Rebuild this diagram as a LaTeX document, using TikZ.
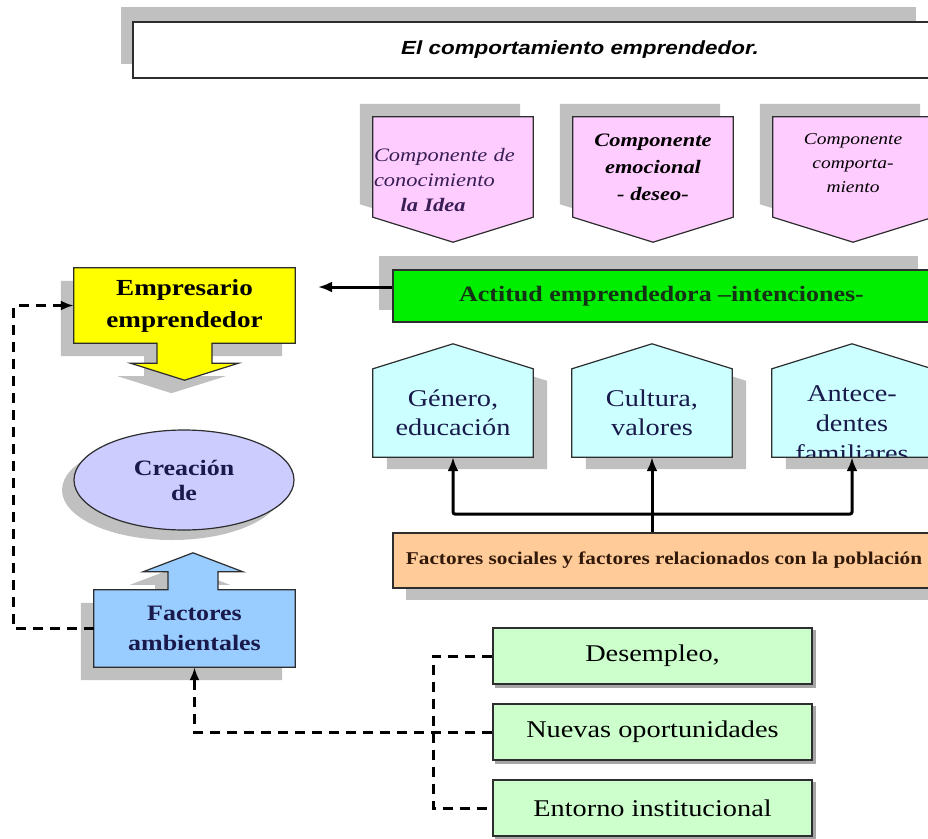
\documentclass[tikz,border=0pt]{standalone}
\usepackage{fontspec}
\setmainfont{Liberation Serif}[FakeStretch=1.18]
\newfontfamily\titulofont{Liberation Sans}[FakeStretch=1.18]
\usetikzlibrary{arrows.meta,backgrounds,shapes.geometric}

\definecolor{sombra}{RGB}{192,192,192}
\definecolor{rosa}{RGB}{255,204,255}
\definecolor{verde}{RGB}{0,238,0}
\definecolor{amarillo}{RGB}{255,255,0}
\definecolor{celeste}{RGB}{204,255,255}
\definecolor{lila}{RGB}{204,204,255}
\definecolor{azul}{RGB}{153,204,255}
\definecolor{naranja}{RGB}{255,204,153}
\definecolor{verdeclaro}{RGB}{204,255,204}
\definecolor{tinta}{RGB}{25,25,75}
\definecolor{tintamorada}{RGB}{55,30,85}
\definecolor{tintaverde}{RGB}{20,50,20}
\definecolor{tintamarron}{RGB}{50,25,10}
\definecolor{borde}{RGB}{45,45,45}

% contornos de las formas, a partir de las anclas del nodo
\newcommand{\pentabajo}[1]{(#1.north west) -- (#1.north east) -- (#1.south east) -- ([yshift=-25pt]#1.south) -- (#1.south west) -- cycle}
\newcommand{\pentarriba}[1]{(#1.south west) -- (#1.north west) -- ([yshift=25pt]#1.north) -- (#1.north east) -- (#1.south east) -- cycle}
\newcommand{\flechabajo}[1]{(#1.north west) -- (#1.north east) -- (#1.south east) -- ([xshift=27.5pt]#1.south) -- ([xshift=27.5pt,yshift=-20pt]#1.south) -- ([xshift=54pt,yshift=-20pt]#1.south) -- ([yshift=-37pt]#1.south) -- ([xshift=-54pt,yshift=-20pt]#1.south) -- ([xshift=-27.5pt,yshift=-20pt]#1.south) -- ([xshift=-27.5pt]#1.south) -- (#1.south west) -- cycle}
\newcommand{\flecharriba}[1]{(#1.south west) -- (#1.north west) -- ([xshift=-26.5pt]#1.north) -- ([xshift=-26.5pt,yshift=18pt]#1.north) -- ([xshift=-51.5pt,yshift=18pt]#1.north) -- ([xshift=-1.5pt,yshift=37pt]#1.north) -- ([xshift=48.5pt,yshift=18pt]#1.north) -- ([xshift=23.5pt,yshift=18pt]#1.north) -- ([xshift=23.5pt]#1.north) -- (#1.north east) -- (#1.south east) -- cycle}

\tikzset{
  caja/.style={inner sep=0pt, align=center},
  rosabox/.style={caja, minimum width=160pt, minimum height=100pt},
  borde fino/.style={draw=borde, line width=1.2pt},
  flecha/.style={line width=3pt, -{Latex[length=14pt,width=11pt]}},
  rayas/.style={line width=3pt, dash pattern=on 10pt off 7pt},
  puntarayas/.style={-{Latex[length=13pt,width=10pt]}},
  grande/.style={font=\fontsize{22}{30}\selectfont\bfseries},
  media/.style={font=\fontsize{24}{29}\selectfont},
  verdes/.style={caja, minimum width=319pt, minimum height=56pt, borde fino, fill=verdeclaro, font=\fontsize{24}{28}\selectfont},
}

\begin{document}
\begin{tikzpicture}[x=1pt,y=-1pt]
\useasboundingbox (0,0) rectangle (928,838);
\clip (0,0) rectangle (928,838);

% Titulo
\node[caja, minimum width=894pt, minimum height=56pt, borde fino, fill=white,
  font=\titulofont\bfseries\itshape\fontsize{19}{22}\selectfont] (titulo) at (580,50)
  {El comportamiento emprendedor.};

% Componentes de la actitud
\node[rosabox] (conoc) at (453,167) {};
\node[rosabox] (emoc) at (653,167) {};
\node[rosabox] (comport) at (853,167) {};
\node[caja, text width=158pt, align=left, text=tintamorada, font=\fontsize{19}{25}\selectfont\itshape]
  (conoctexto) at ([yshift=-13pt]conoc.center) {Componente de\\conocimiento\\\hspace*{1.4em}{\bfseries la Idea}};
\node[caja, font=\fontsize{19}{27}\selectfont\bfseries\itshape] (emoctexto) at (emoc.center)
  {Componente\\emocional\\- deseo-};
\node[caja, font=\fontsize{16.5}{24}\selectfont\itshape] (comporttexto) at ([yshift=4pt]comport.center)
  {Componente\\comporta-\\miento};

% Actitud y empresario
\node[caja, minimum width=537pt, minimum height=52pt, borde fino, fill=verde, text=tintaverde,
  font=\fontsize{22}{26}\selectfont\bfseries] (actitud) at (661.5,296)
  {Actitud emprendedora –intenciones-};
\node[caja, minimum width=221pt, minimum height=75pt, font=\fontsize{23}{32}\selectfont\bfseries] (empresario) at (184.5,305.5)
  {Empresario\\emprendedor};

% Creacion y factores ambientales
\node[ellipse, minimum width=220pt, minimum height=100pt, inner sep=0pt, borde fino, fill=lila, align=center, text=tinta,
  font=\fontsize{22}{25}\selectfont\bfseries] (creacion) at (184,480)
  {Creación\\de};
\node[caja, minimum width=201pt, minimum height=77pt, text=tinta, grande] (ambiental) at (194.5,628.5)
  {Factores\\ambientales};

% Factores personales
\node[caja, minimum width=160pt, minimum height=88pt, text=tinta, media] (genero) at (453,413)
  {Género,\\educación};
\node[caja, minimum width=160pt, minimum height=88pt, text=tinta, media] (cultura) at (652,413)
  {Cultura,\\valores};
\node[caja, minimum width=160pt, minimum height=88pt] (antec) at (852,413) {};
\begin{scope}
  \clip (760,330) rectangle (928,456.5);
  \node[caja, text=tinta, font=\fontsize{24}{30}\selectfont] (antectexto) at (852,424)
    {Antece-\\dentes\\familiares};
\end{scope}

\node[caja, minimum width=542pt, minimum height=55pt, borde fino, fill=naranja, text=tintamarron,
  font=\fontsize{18}{22}\selectfont\bfseries] (sociales) at (664,560.5)
  {Factores sociales y factores relacionados con la población};

% Entorno
\node[verdes] (desempleo) at (652.5,656) {Desempleo,};
\node[verdes] (nuevas) at (652.5,732) {Nuevas oportunidades};
\node[verdes] (entorno) at (652.5,808) {Entorno institucional};

\begin{scope}[on background layer]
  % sombras
  \fill[sombra] ([shift={(-11,-14)}]titulo.north west) rectangle (916,64);
  \fill[sombra] ([shift={(-13,-13)}]actitud.north west) rectangle (918,310);
  \begin{scope}[transform canvas={shift={(-13pt,13pt)}}]
    \fill[sombra] \pentabajo{conoc};
    \fill[sombra] \pentabajo{emoc};
    \fill[sombra] \pentabajo{comport};
  \end{scope}
  \begin{scope}[transform canvas={shift={(-13pt,-13pt)}}]
    \fill[sombra] \flechabajo{empresario};
    \fill[sombra] \flecharriba{ambiental};
  \end{scope}
  \fill[sombra] ([shift={(-12,10)}]creacion.center) ellipse [x radius=110pt, y radius=50pt];
  \begin{scope}[transform canvas={shift={(14pt,-12pt)}}]
    \fill[sombra] \pentarriba{genero};
    \fill[sombra] \pentarriba{cultura};
    \fill[sombra] \pentarriba{antec};
  \end{scope}
  \fill[sombra] ([shift={(14,11)}]sociales.south west) rectangle ([shift={(14,11)}]sociales.north east);
  \foreach \n in {desempleo,nuevas,entorno}
    \fill[gray!70] ([shift={(3,3)}]\n.south west) rectangle ([shift={(3,3)}]\n.north east);
  % formas
  \draw[borde fino, fill=rosa] \pentabajo{conoc};
  \draw[borde fino, fill=rosa] \pentabajo{emoc};
  \draw[borde fino, fill=rosa] \pentabajo{comport};
  \draw[borde fino, fill=amarillo] \flechabajo{empresario};
  \draw[borde fino, fill=azul] \flecharriba{ambiental};
  \draw[borde fino, fill=celeste] \pentarriba{genero};
  \draw[borde fino, fill=celeste] \pentarriba{cultura};
  \draw[borde fino, fill=celeste] \pentarriba{antec};
\end{scope}

% Conectores
\coordinate (punta) at (318,287);
\draw[flecha] (actitud.west |- punta) -- (punta);

\coordinate (cruce) at (652,514);
\draw[line width=3pt] (sociales.north -| cultura.south) -- (cruce);
\draw[flecha] (cruce) -- (cultura.south);
\draw[flecha, rounded corners=2pt] (cruce) -| (genero.south);
\draw[flecha, rounded corners=2pt] (cruce) -| (antec.south);

\draw[rayas, puntarayas] (ambiental.west) -- ++(-80,0) |- (empresario.west);
\coordinate (columna) at (433,732);
\draw[rayas] (desempleo.west) -| (columna) |- (entorno.west);
\draw[rayas, puntarayas] (nuevas.west) -| (ambiental.south);
\end{tikzpicture}
\end{document}
